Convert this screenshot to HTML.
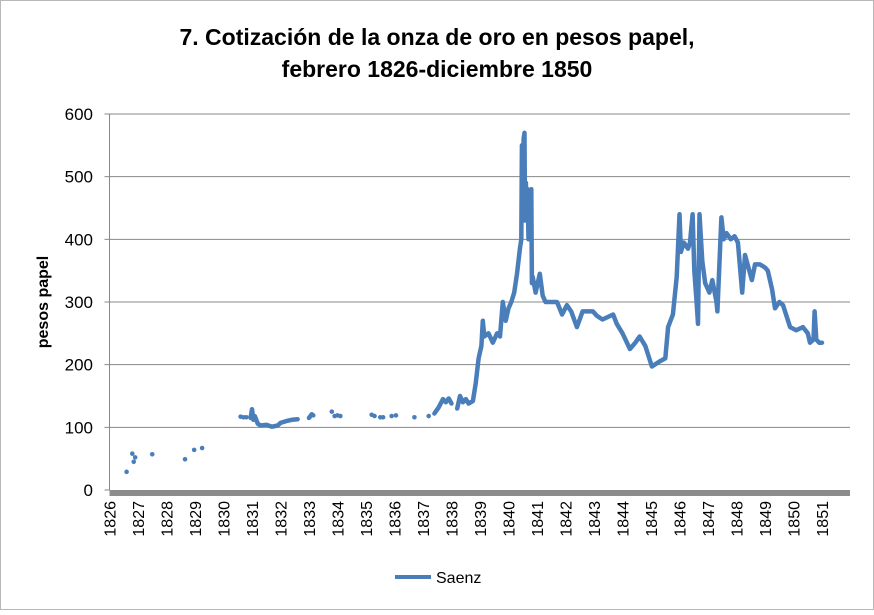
<!DOCTYPE html>
<html><head><meta charset="utf-8"><style>
body{margin:0;background:#fff}
svg text{font-family:"Liberation Sans",sans-serif}
</style></head><body>
<svg width="874" height="610" viewBox="0 0 874 610" id="c">
<rect x="0.5" y="0.5" width="873" height="609" fill="#fff" stroke="#b8b8b8"/>
<text x="437" y="45" text-anchor="middle" font-size="23" font-weight="bold">7. Cotización de la onza de oro en pesos papel,</text>
<text x="437" y="77" text-anchor="middle" font-size="23" font-weight="bold">febrero 1826-diciembre 1850</text>
<text transform="translate(48,302) rotate(-90)" text-anchor="middle" font-size="16" font-weight="bold">pesos papel</text>
<g id="grid"></g><g id="ylab"></g><g id="xlab"></g><g id="series"></g>
<g>
<line x1="395" y1="577" x2="431" y2="577" stroke="#4a7ebb" stroke-width="4"/>
<text x="436" y="583" font-size="16">Saenz</text>
</g>
</svg>
<script>
const yTicks=[0,100,200,300,400,500,600];
const xTicks=[1826,1827,1828,1829,1830,1831,1832,1833,1834,1835,1836,1837,1838,1839,1840,1841,1842,1843,1844,1845,1846,1847,1848,1849,1850,1851];
const dotYears=[1826.6,1826.8,1826.85,1826.9,1827.5,1828.65,1828.97,1829.25,1830.6,1830.7,1830.8,1833.1,1833.8,1833.9,1834.0,1834.1,1835.2,1835.3,1835.5,1835.6,1835.9,1836.05,1836.7,1837.2];
const dotValues=[29,58,45,52,57,49,64,67,117,116,116,120,125,118,119,118,120,118,116,116,118,119,116,118];
const segYears=[
[1830.95,1831.0,1831.05,1831.1,1831.2,1831.3,1831.5,1831.7,1831.9,1832.0,1832.2,1832.4,1832.6],
[1833.0,1833.1,1833.15],
[1837.4,1837.55,1837.7,1837.8,1837.9,1838.0],
[1838.2,1838.3,1838.4,1838.5,1838.6,
 1838.75,1838.85,1838.95,1839.05,1839.1,
 1839.15,1839.3,1839.45,1839.6,1839.7,
 1839.8,1839.9,1840.0,1840.1,1840.2,
 1840.3,1840.4,1840.45,1840.47,1840.5,
 1840.53,1840.56,1840.58,1840.61,1840.64,
 1840.67,1840.7,1840.73,1840.76,1840.8,
 1840.82,1840.85,1840.95,1841.1,1841.2,
 1841.3,1841.46,1841.7,1841.88,1842.05,
 1842.2,1842.4,1842.6,1842.96,1843.1,
 1843.3,1843.67,1843.8,1844.0,1844.26,
 1844.45,1844.6,1844.8,1845.03,1845.3,
 1845.5,1845.6,1845.77,1845.9,1846.0,
 1846.05,1846.15,1846.3,1846.37,1846.46,
 1846.52,1846.6,1846.65,1846.7,1846.8,
 1846.9,1847.05,1847.15,1847.3,1847.33,
 1847.47,1847.55,1847.65,1847.8,1847.93,
 1848.05,1848.2,1848.3,1848.54,1848.65,
 1848.82,1849.0,1849.1,1849.25,1849.35,
 1849.5,1849.63,1849.88,1850.1,1850.33,
 1850.5,1850.58,1850.7,1850.74,1850.8,1850.9,1851.0]
];
const segValues=[
[115,129,112,118,106,103,104,101,103,107,110,112,113],
[115,121,119],
[122,132,145,140,146,138],
[130,150,140,145,138,
 142,170,210,230,270,
 245,250,235,250,245,
 300,270,290,300,315,
 345,385,400,550,450,
 560,570,430,490,440,
 480,400,470,430,480,
 330,340,315,345,310,
 300,300,300,280,295,
 285,260,285,285,278,
 272,280,265,250,225,
 235,245,230,197,205,
 210,260,280,340,440,
 380,395,385,395,440,
 350,300,265,440,365,
 330,315,335,300,285,
 435,400,410,400,405,
 395,315,375,335,360,
 360,355,350,320,290,
 300,295,260,255,260,
 250,235,240,285,240,235,235]
];
const NS='http://www.w3.org/2000/svg';
const X0=109.5,XW=28.5,Y0=490,YS=(490-114)/600;
const xs=y=>X0+(y-1826)*XW, ys=v=>Y0-v*YS;
function mk(tag,attrs,parent){const e=document.createElementNS(NS,tag);for(const k in attrs)e.setAttribute(k,attrs[k]);parent.appendChild(e);return e;}
const grid=document.getElementById('grid'),ylab=document.getElementById('ylab'),xlab=document.getElementById('xlab'),ser=document.getElementById('series');
yTicks.forEach(t=>{
 if(t>0){const l=mk('line',{x1:X0,x2:850,y1:ys(t),y2:ys(t),stroke:'#888','stroke-width':1},grid);
 
 }
 const tm=mk('line',{x1:X0-5,x2:X0,y1:ys(t),y2:ys(t),stroke:'#888'},grid);
 
 
 const tx=mk('text',{x:93,y:ys(t)+6,'text-anchor':'end','font-size':17},ylab);tx.textContent=t;
 
 
});
const ax=mk('line',{x1:X0,x2:X0,y1:114,y2:490,stroke:'#888'},grid);


const xa=mk('rect',{x:X0,y:490,width:850-X0,height:6,fill:'#8c8c8c'},grid);


xTicks.forEach(t=>{
 const x=xs(t);
 const tx=mk('text',{transform:`translate(${x+6},501) rotate(-90)`,'text-anchor':'end','font-size':16},xlab);tx.textContent=t;
 
 
});
dotYears.forEach((y,i)=>{
 const c=mk('circle',{cx:xs(y),cy:ys(dotValues[i]),r:2.3,fill:'#4a7ebb'},ser);
 
 
});
segYears.forEach((arr,j)=>{
 const d=arr.map((y,i)=>(i?'L':'M')+xs(y).toFixed(1)+','+ys(segValues[j][i]).toFixed(1)).join('');
 const p=mk('path',{d:d,fill:'none',stroke:'#4a7ebb','stroke-width':4.5,'stroke-linejoin':'round','stroke-linecap':'round'},ser);
 
 
});
</script>
</body></html>
